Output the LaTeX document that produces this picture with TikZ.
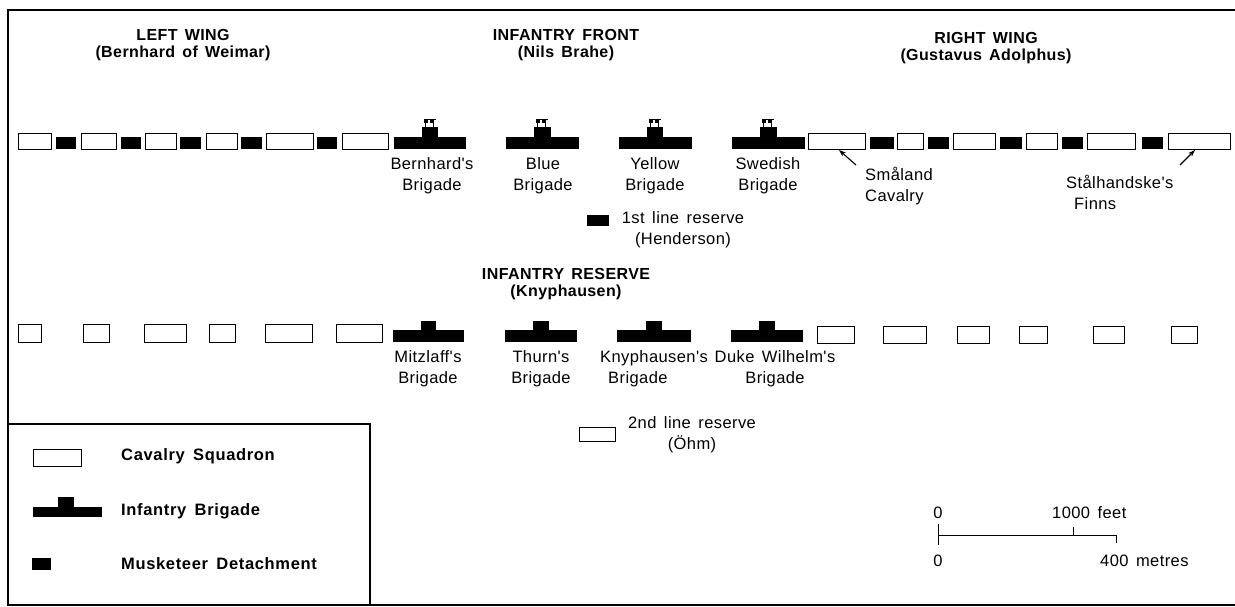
\documentclass[tikz,border=0pt]{standalone}
\usepackage{fontspec}
\setmainfont{Liberation Sans}[Ligatures=TeXOff,LetterSpace=2.5,WordSpace=1.5]
\newfontfamily\legfont{Liberation Sans}[Ligatures=TeXOff,LetterSpace=4,WordSpace=1.6]
\usetikzlibrary{arrows.meta}
\tikzset{
  cav/.style={draw=black,line width=0.9pt,fill=white},
  lab/.style={inner sep=0pt,font=\fontsize{16.5}{21}\selectfont,align=center},
  ttl/.style={inner sep=0pt,font=\bfseries\fontsize{16}{17}\selectfont,align=center},
  legtxt/.style={inner sep=0pt,anchor=west,font=\legfont\bfseries\fontsize{16.5}{17}\selectfont},
  ptr/.style={-{Stealth[length=7pt,width=5pt]},line width=1.1pt}
}
\newcommand{\cavbox}[4]{\draw[cav] (#1,#3) rectangle (#2,#4);}
\newcommand{\musk}[4]{\fill[black] (#1,#3) rectangle (#2,#4);}
% brigade: x1 x2 c1 c2 ytop ybase ybottom
\newcommand{\brig}[7]{\fill[black] (#1,#6) rectangle (#2,#7); \fill[black] (#3,#5) rectangle (#4,#6);}
\newcommand{\flags}[2]{%
  \fill[black] (#1+2,119) rectangle (#1+6,123.5);
  \fill[black] (#1+8,119) rectangle (#1+12,123.5);
  \draw[line width=0.8pt] (#1+2,119.5) -- (#1+14,119.5);
  \draw[line width=0.8pt] (#1+3,123) -- (#1+3,127) (#1+11,123) -- (#1+11,127);}
\begin{document}
\begin{tikzpicture}[x=1pt,y=-1pt]
\useasboundingbox (0,0) rectangle (1235,607);
% frame
\draw[line width=1.6pt] (1236,10) -- (8,10) -- (8,605) -- (1236,605);
% titles
\node[ttl] (lw) at (183,45) {LEFT WING\\(Bernhard of Weimar)};
\node[ttl] (if) at (566,45) {INFANTRY FRONT\\(Nils Brahe)};
\node[ttl] (rw) at (986,48) {RIGHT WING\\(Gustavus Adolphus)};
\node[ttl] (ir) at (566,284) {INFANTRY RESERVE\\(Knyphausen)};
% front line cavalry
\foreach \a/\b in {18/51,81/116,145/176,206/237,266/313,342/388,808/865,897/923,953/995,1026/1057,1087/1135,1168/1230}
  {\cavbox{\a}{\b}{133}{149}}
\foreach \a/\b in {56/76,121/141,180/201,241/262,317/337,870/894,928/949,1000/1022,1062/1083,1142/1163}
  {\musk{\a}{\b}{137}{149}}
% front line brigades
\foreach \a/\b/\c/\d in {394/466/422/438,506/579/534/551,619/692/647/663,732/805/760/777}
  {\brig{\a}{\b}{\c}{\d}{127}{137}{149}\flags{\c}{\d}}
\node[lab] (b1) at (432,176) {Bernhard's\\Brigade};
\node[lab] (b2) at (543,176) {Blue\\Brigade};
\node[lab] (b3) at (655,176) {Yellow\\Brigade};
\node[lab] (b4) at (768,176) {Swedish\\Brigade};
\node[lab,anchor=west,align=left] (sm) at (865,186) {Småland\\Cavalry};
\node[lab,anchor=west,align=left] (st) at (1066,192) {Stålhandske's\\\hspace*{8pt}Finns};
\coordinate (smbox) at (839,150);
\coordinate (stbox) at (1195,150);
\coordinate (smtxt) at (856,165);
\coordinate (sttxt) at (1180,165);
\draw[ptr] (smtxt) -- (smbox);
\draw[ptr] (sttxt) -- (stbox);
% 1st line reserve
\musk{587}{609}{215}{226}
\node[lab] (r1) at (683,230) {1st line reserve\\(Henderson)};
% second line
\foreach \a/\b in {18/41,83/109,144/186,209/235,265/312,336/382}
  {\cavbox{\a}{\b}{324}{342}}
\foreach \a/\b in {817/854,883/926,957/989,1019/1047,1093/1124,1171/1197}
  {\cavbox{\a}{\b}{326}{343}}
\foreach \a/\b/\c/\d in {393/464/421/436,505/577/533/549,617/691/646/662,731/803/759/775}
  {\brig{\a}{\b}{\c}{\d}{321}{330}{342}}
\node[lab] (m1) at (428,369) {Mitzlaff's\\Brigade};
\node[lab] (m2) at (541,369) {Thurn's\\Brigade};
\node[lab,anchor=west,align=left] (m3) at (600,369) {Knyphausen's\\\hspace*{8pt}Brigade};
\node[lab] (m4) at (775,369) {Duke Wilhelm's\\Brigade};
% 2nd line reserve
\cavbox{579}{615}{427}{441}
\node[lab] (r2) at (692,435) {2nd line reserve\\(Öhm)};
% legend
\draw[line width=1.2pt] (8,424) -- (370,424) -- (370,605);
\cavbox{33}{81}{449}{466}
\node[legtxt] (l1) at (121,456) {Cavalry Squadron};
\brig{33}{102}{58}{74}{497}{507}{517}
\node[legtxt] (l2) at (121,511) {Infantry Brigade};
\musk{32}{51}{558}{570}
\node[legtxt] (l3) at (121,564) {Musketeer Detachment};
% scale
\draw[line width=1pt] (938,524) -- (938,545);
\draw[line width=1pt] (938,535) -- (1116,535) -- (1116,543);
\draw[line width=1pt] (1073,535) -- (1073,527);
\node[lab] (s0) at (938,513) {0};
\node[lab,anchor=west] (s1) at (1052,513) {1000 feet};
\node[lab] (s2) at (938,561) {0};
\node[lab,anchor=west] (s3) at (1100,561) {400 metres};
\end{tikzpicture}
\end{document}
